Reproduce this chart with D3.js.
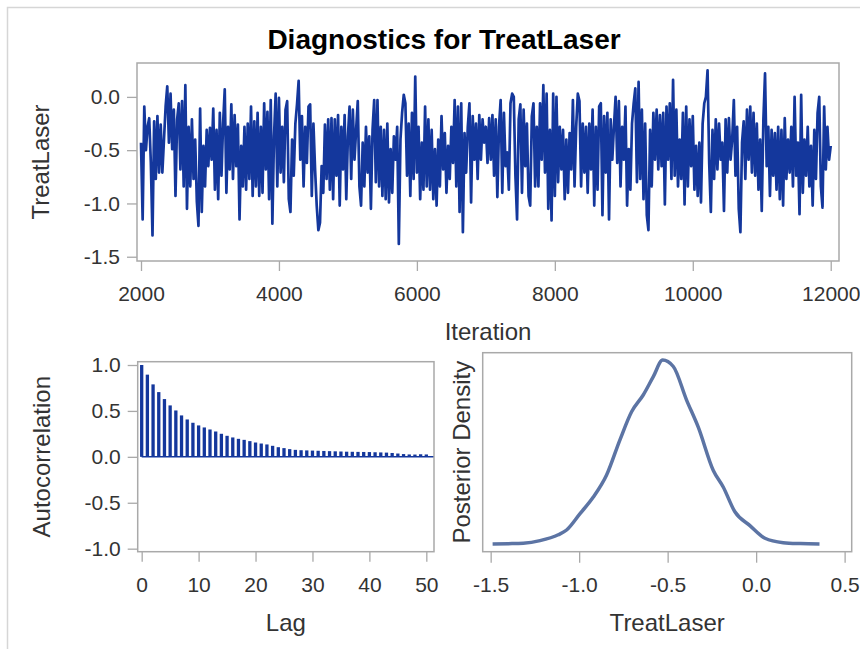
<!DOCTYPE html>
<html>
<head>
<meta charset="utf-8">
<script src="https://cdn.jsdelivr.net/npm/d3@7"></script>
<style>
  html, body { margin: 0; padding: 0; background: #fff; }
  svg { display: block; }
  text { font-family: "Liberation Sans", Arial, sans-serif; }
</style>
</head>
<body>
<div id="chart"></div>
<script>
// ---------------- DATA ----------------
const titleText = "Diagnostics for TreatLaser";
const paramName = "TreatLaser";

// Trace (thinned), iterations 2000..12000
const iterStart = 2000, iterEnd = 12000;
const trace1 = [-0.43,-1.15,-0.09,-0.50,-0.28,-0.20,-0.62,-1.30,-0.23,-0.77,-0.18,-0.71,
-0.26,-0.71,-0.40,-0.09,0.10,-0.43,0.03,-0.49,-0.12,-0.93,-0.21,
-0.06,-0.68,-0.04,-0.84,0.11,-1.05,-0.28,-0.84,-0.21,-0.77,
-0.40,-0.98,-1.21,-0.11,-1.08,-0.46,-0.84,-0.31,-0.65,-0.29,
-0.59,-0.11,-0.87,-0.31,-0.96,-0.15,-0.74,-0.25,0.07,-0.90,
-0.28,-0.68,-0.07,-0.77,-0.17,-0.65,-0.26,-1.15,-0.46,-0.84,
-0.28,-0.87,-0.25,-0.77,-0.09,-0.93,-0.23,-0.84,-0.15,-0.93,
-0.28,-0.90,-0.06,-0.68,-0.14,-0.96,-0.03,-1.19,-0.37,0.03,
-0.84,-0.01,-0.71,-0.28,-0.80,-0.12,-0.04,-0.96,-1.08,-0.40,
-0.74,-0.25,-0.07,0.15,-0.59,-0.18,-0.84,-0.28,-0.62,-0.09];
const trace2 = [-0.07,-0.93,-0.25,-0.68,-1.02,-1.25,-1.18,-0.65,-0.90,-0.26,
-0.77,-0.21,-0.87,-0.20,-0.96,-0.21,-0.74,-0.17,-1.02,-0.28,
-0.68,-0.17,-0.96,-0.37,-0.09,-0.77,-0.12,-0.59,-0.31,-0.04,
-0.84,-1.02,-0.43,-0.84,-0.28,-0.71,-0.37,-1.05,-0.31,-0.03,
-0.80,-0.03,-0.84,-0.28,-0.93,-0.31,-0.96,-0.25,-0.99,-0.49,
-0.90,-0.37,-0.59,-0.28,-1.38,-0.40,-0.15,0.02,-0.06,-0.74,
-0.25,-0.93,-0.15,-0.77,0.19,-0.71,-0.28,-0.96,-0.43,-0.87,
-0.09,-0.84,-0.21,-0.87,-0.31,-0.96,-0.49,-1.02,-0.40,-0.84,
-0.18,-0.68,-0.34,-0.90,-0.46,-0.77,-0.28,-0.62,-0.03,-0.84,
-0.09,-1.08,-0.06,-1.27,-0.34,-0.71,-0.28,-0.06,-0.99,-0.18,
-0.59,-0.25,-0.77,-0.17,-0.59,-0.21];
const trace3 = [-0.43,-0.28,-0.62,-0.20,-0.59,-0.17,-0.74,-0.21,-0.94,-0.28,
-0.03,-0.90,-0.15,-0.65,-0.52,-0.87,-0.06,0.03,0.00,-0.74,
-1.15,-0.21,-0.07,-0.90,-0.12,-0.65,-0.25,-0.93,-1.02,-0.18,
-0.06,-0.84,-0.28,-0.84,-0.06,-0.59,0.11,-0.71,0.03,-1.05,
-0.31,-1.16,0.03,-0.93,0.00,-0.80,-0.28,-0.68,-0.31,-0.96,
-0.40,-0.90,-0.34,-0.68,-0.03,-0.84,-0.28,0.03,-0.04,-0.84,
-0.25,-0.71,-0.28,-0.90,-0.25,-0.68,-0.12,-1.02,-0.28,-0.87,
-0.09,-0.06,-1.11,-0.18,-0.71,-0.15,-1.15,-0.21,-0.59,-0.28,
0.00,-0.62,-0.04,-0.84,-0.28,-0.59,-0.09,-1.02,-0.49,-0.87,
-0.25,-0.06,0.08,-0.80,0.14,-0.77,-0.12,-0.96,-0.25,-1.11,
-1.25,-0.31,-0.84,-0.15,-0.59,-0.12,-0.68];
const trace4 = [-0.17,-0.65,-0.15,-1.01,-0.09,-0.59,-0.06,-0.77,0.16,-0.74,
-0.12,-0.84,-0.40,-0.77,-0.15,-1.01,-0.09,-0.84,-0.21,-0.65,
-0.18,-0.87,-0.46,-0.93,-0.43,-0.99,-0.25,-0.06,0.00,0.25,
-0.62,-1.08,-0.31,-0.77,-0.21,-0.68,-0.25,-0.59,-0.43,-1.07,
-0.21,-0.71,-0.20,-0.59,-0.40,-0.03,-0.74,-0.28,-1.05,-1.27,
-0.43,-0.23,-0.77,-0.12,-0.59,-0.09,-0.71,-0.15,-0.74,-0.25,
-0.87,-0.40,-1.07,-0.21,0.22,-0.65,-0.28,-0.93,-0.31,-0.74,
-0.34,-0.87,-0.28,-0.96,-0.31,-1.02,-0.20,-0.77,-0.40,-0.71,
-0.28,-0.84,0.00,-0.74,-0.43,-1.10,0.02,-0.90,-0.40,-0.74,
-0.28,-0.84,-0.46,-1.02,-0.31,-0.77,-0.15,0.00,-0.84,-1.04,
-0.09,-0.68,-0.28,-0.59,-0.46];
const traceXTicks = [2000, 4000, 6000, 8000, 10000, 12000];
const traceYTicks = [-1.5, -1.0, -0.5, 0.0];

// Autocorrelation by lag 0..50
const acfValues = [1.0, 0.895, 0.789, 0.705, 0.629, 0.56, 0.505, 0.451, 0.407, 0.371,
0.342, 0.32, 0.298, 0.276, 0.251, 0.229, 0.211, 0.196, 0.185, 0.171,
0.156, 0.145, 0.135, 0.12, 0.105, 0.095, 0.084, 0.076, 0.072, 0.07,
0.068, 0.066, 0.064, 0.062, 0.06, 0.058, 0.056, 0.055, 0.054, 0.053,
0.052, 0.05, 0.048, 0.046, 0.042, 0.036, 0.03, 0.026, 0.025, 0.028, 0.026];
const acfXTicks = [0, 10, 20, 30, 40, 50];
const acfYTicks = [-1.0, -0.5, 0.0, 0.5, 1.0];

// Posterior density curve
const densityX = [-1.489, -1.40, -1.316, -1.221, -1.118, -1.071, -0.995, -0.92, -0.845, -0.77,
-0.703, -0.638, -0.581, -0.528, -0.468, -0.393, -0.327, -0.242, -0.186, -0.12,
-0.035, 0.05, 0.153, 0.25, 0.358];
const densityY = [0.0, 0.003, 0.008, 0.036, 0.10, 0.152, 0.33, 0.51, 0.75, 1.13,
1.44, 1.62, 1.82, 2.0, 1.93, 1.565, 1.27, 0.80, 0.62, 0.35,
0.2, 0.062, 0.014, 0.004, 0.0];
const densityXTicks = [-1.5, -1.0, -0.5, 0.0, 0.5];

// ---------------- DRAW ----------------
const W = 860, H = 649;
const svg = d3.select("#chart").append("svg").attr("width", W).attr("height", H);

const frameColor = "#a9a9a9";
const textColor = "#333";
const lineBlue = "#14379c";
const densityColor = "#5c74a4";
const tickFont = 21, labelFont = 24;
const fmt1 = v => d3.format(".1f")(v).replace("\u2212", "-");

// outer border
svg.append("rect").attr("x", 7.5).attr("y", 7.5).attr("width", 1000).attr("height", 1000)
  .attr("fill", "none").attr("stroke", "#d6d6d6").attr("stroke-width", 1.5);

// title
svg.append("text").attr("x", 444).attr("y", 49).attr("text-anchor", "middle")
  .attr("font-size", 28).attr("font-weight", "bold").attr("fill", "#000").text(titleText);

function styleAxis(g, font) {
  g.select(".domain").remove();
  g.selectAll(".tick line").attr("stroke", frameColor).attr("stroke-width", 1.3);
  g.selectAll(".tick text").attr("fill", textColor).attr("font-size", font)
    .attr("font-family", '"Liberation Sans", Arial, sans-serif');
}
function frame(x0, y0, x1, y1) {
  svg.append("rect").attr("x", x0).attr("y", y0).attr("width", x1 - x0).attr("height", y1 - y0)
    .attr("fill", "none").attr("stroke", frameColor).attr("stroke-width", 1.5);
}

// ---- Trace panel ----
const traceValues = trace1.concat(trace2, trace3, trace4);
const nT = traceValues.length;
const traceData = traceValues.map((v, i) => ({ it: iterStart + i * (iterEnd - iterStart) / (nT - 1), v }));
const tp = { x0: 137, y0: 63, x1: 839, y1: 261 };
const tx = d3.scaleLinear().domain([1942, 12120]).range([tp.x0, tp.x1]);
const ty = d3.scaleLinear().domain([-1.54, 0.318]).range([tp.y1, tp.y0]);

svg.append("path").datum(traceData)
  .attr("d", d3.line().x(d => tx(d.it)).y(d => ty(d.v)))
  .attr("fill", "none").attr("stroke", lineBlue).attr("stroke-width", 2.7).attr("stroke-linejoin", "round");
frame(tp.x0, tp.y0, tp.x1, tp.y1);
svg.append("g").attr("transform", `translate(0,${tp.y1})`)
  .call(d3.axisBottom(tx).tickValues(traceXTicks).tickFormat(d3.format("d")).tickSize(10).tickPadding(15))
  .call(g => styleAxis(g, tickFont));
svg.append("g").attr("transform", `translate(${tp.x0},0)`)
  .call(d3.axisLeft(ty).tickValues(traceYTicks).tickFormat(fmt1).tickSize(10).tickPadding(7))
  .call(g => styleAxis(g, tickFont));
svg.append("text").attr("x", (tp.x0 + tp.x1) / 2).attr("y", 340).attr("text-anchor", "middle")
  .attr("font-size", labelFont).attr("fill", textColor).text("Iteration");
svg.append("text").attr("transform", `translate(49,${(tp.y0 + tp.y1) / 2}) rotate(-90)`)
  .attr("text-anchor", "middle").attr("font-size", labelFont).attr("fill", textColor).text(paramName);

// ---- ACF panel ----
const ap = { x0: 137.7, y0: 361.7, x1: 434, y1: 551.7 };
const ax = d3.scaleLinear().domain([-0.7, 51.35]).range([ap.x0, ap.x1]);
const ay = d3.scaleLinear().domain([-1.033, 1.036]).range([ap.y1, ap.y0]);
const barW = 3.3;
svg.append("g").selectAll("rect").data(acfValues).join("rect")
  .attr("x", (d, i) => ax(i) - barW / 2)
  .attr("y", d => ay(Math.max(0, d)))
  .attr("width", barW)
  .attr("height", d => Math.abs(ay(d) - ay(0)))
  .attr("fill", lineBlue);
svg.append("line").attr("x1", ax(0)).attr("x2", ap.x1).attr("y1", ay(0)).attr("y2", ay(0))
  .attr("stroke", lineBlue).attr("stroke-width", 1.5);
frame(ap.x0, ap.y0, ap.x1, ap.y1);
svg.append("g").attr("transform", `translate(0,${ap.y1})`)
  .call(d3.axisBottom(ax).tickValues(acfXTicks).tickFormat(d3.format("d")).tickSize(10).tickPadding(15))
  .call(g => styleAxis(g, tickFont));
svg.append("g").attr("transform", `translate(${ap.x0},0)`)
  .call(d3.axisLeft(ay).tickValues(acfYTicks).tickFormat(fmt1).tickSize(10).tickPadding(7))
  .call(g => styleAxis(g, tickFont));
svg.append("text").attr("x", (ap.x0 + ap.x1) / 2).attr("y", 631).attr("text-anchor", "middle")
  .attr("font-size", labelFont).attr("fill", textColor).text("Lag");
svg.append("text").attr("transform", `translate(50,${(ap.y0 + ap.y1) / 2}) rotate(-90)`)
  .attr("text-anchor", "middle").attr("font-size", labelFont).attr("fill", textColor).text("Autocorrelation");

// ---- Density panel ----
const dp = { x0: 482.7, y0: 352.7, x1: 851.7, y1: 551.7 };
const dx = d3.scaleLinear().domain([-1.545, 0.54]).range([dp.x0, dp.x1]);
const dy = d3.scaleLinear().domain([-0.084, 2.08]).range([dp.y1, dp.y0]);
const densData = densityX.map((x, i) => ({ x, y: densityY[i] }));
svg.append("path").datum(densData)
  .attr("d", d3.line().x(d => dx(d.x)).y(d => dy(d.y)).curve(d3.curveMonotoneX))
  .attr("fill", "none").attr("stroke", densityColor).attr("stroke-width", 3.5).attr("stroke-linejoin", "round");
frame(dp.x0, dp.y0, dp.x1, dp.y1);
svg.append("g").attr("transform", `translate(0,${dp.y1})`)
  .call(d3.axisBottom(dx).tickValues(densityXTicks).tickFormat(fmt1).tickSize(11).tickPadding(14))
  .call(g => styleAxis(g, tickFont));
svg.append("text").attr("x", (dp.x0 + dp.x1) / 2).attr("y", 631).attr("text-anchor", "middle")
  .attr("font-size", labelFont).attr("fill", textColor).text(paramName);
svg.append("text").attr("transform", `translate(470,${(dp.y0 + dp.y1) / 2}) rotate(-90)`)
  .attr("text-anchor", "middle").attr("font-size", labelFont).attr("fill", textColor).text("Posterior Density");
</script>
</body>
</html>
